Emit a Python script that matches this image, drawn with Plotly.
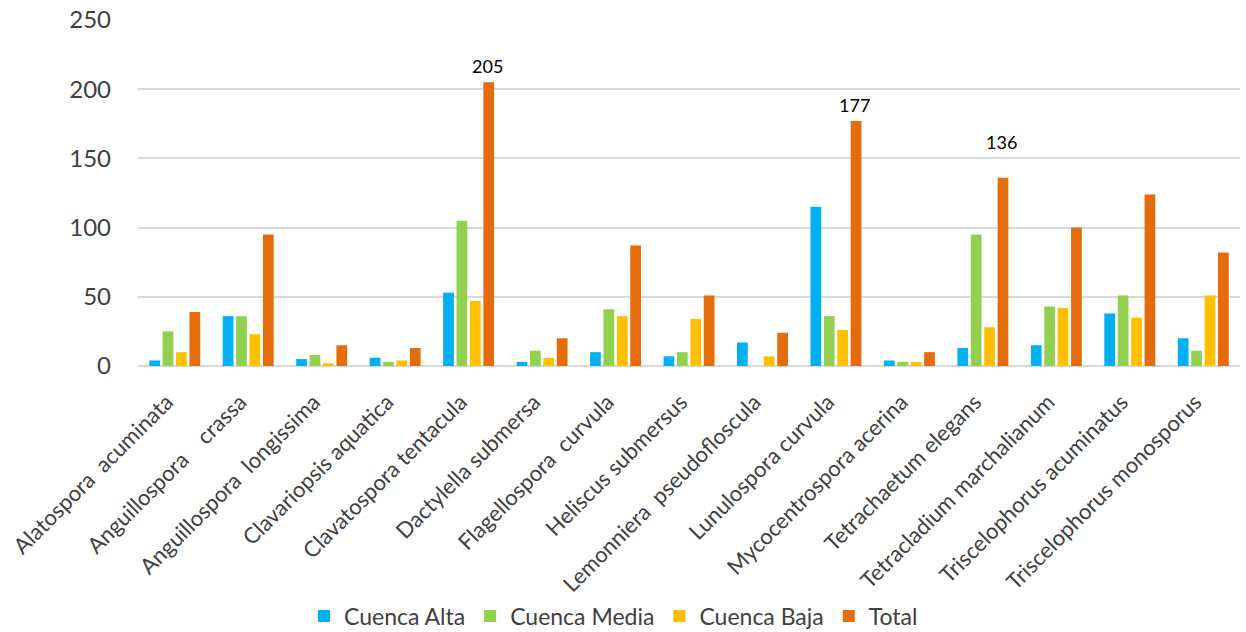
import plotly.graph_objects as go

categories = [
    "Alatospora\u00a0\u00a0acuminata",
    "Anguillospora\u00a0\u00a0\u00a0\u00a0crassa",
    "Anguillospora\u00a0\u00a0longissima",
    "Clavariopsis aquatica",
    "Clavatospora tentacula",
    "Dactylella submersa",
    "Flagellospora\u00a0\u00a0curvula",
    "Heliscus submersus",
    "Lemonniera\u00a0\u00a0pseudofloscula",
    "Lunulospora curvula",
    "Mycocentrospora acerina",
    "Tetrachaetum elegans",
    "Tetracladium marchalianum",
    "Triscelophorus acuminatus",
    "Triscelophorus monosporus",
]

cuenca_alta = [4, 36, 5, 6, 53, 3, 10, 7, 17, 115, 4, 13, 15, 38, 20]
cuenca_media = [25, 36, 8, 3, 105, 11, 41, 10, 0, 36, 3, 95, 43, 51, 11]
cuenca_baja = [10, 23, 2, 4, 47, 6, 36, 34, 7, 26, 3, 28, 42, 35, 51]
total = [39, 95, 15, 13, 205, 20, 87, 51, 24, 177, 10, 136, 100, 124, 82]

labeled = {4: 3, 9: 3, 11: 23}  # category index -> label lift (px)

series = [
    ("Cuenca Alta", cuenca_alta, "#00B0F0"),
    ("Cuenca Media", cuenca_media, "#92D050"),
    ("Cuenca Baja", cuenca_baja, "#FFC000"),
    ("Total", total, "#E46C0A"),
]

fig = go.Figure()
for name, vals, color in series:
    fig.add_trace(go.Bar(x=categories, y=vals, name=name, marker_color=color,
                         marker_line_width=0))

for idx, lift in labeled.items():
    fig.add_annotation(x=categories[idx], y=total[idx], text=str(total[idx]),
                       showarrow=False, yanchor="bottom", xshift=19, yshift=lift,
                       font=dict(family="Lato", size=18, color="#000000"))

fig.update_layout(
    width=1246, height=632,
    margin=dict(l=138, r=6, t=20, b=266, autoexpand=False),
    paper_bgcolor="white", plot_bgcolor="white",
    barmode="group", bargap=0.27, bargroupgap=0.2,
    font=dict(family="Lato", color="#404040"),
    legend=dict(orientation="h", xref="container", yref="container",
                x=304 / 1246, xanchor="left", y=1 - 616 / 632, yanchor="middle",
                font=dict(size=23, color="#404040"), itemwidth=30,
                traceorder="normal"),
    showlegend=True,
)
fig.update_yaxes(range=[0, 250], dtick=50, showgrid=True, gridcolor="#D9D9D9",
                 gridwidth=1.5, zeroline=True, zerolinecolor="#D9D9D9",
                 zerolinewidth=1.5, showline=False, tickfont=dict(size=24),
                 ticklabelstandoff=26, automargin=False)
fig.update_xaxes(tickangle=-45, tickfont=dict(size=22), showline=False,
                 ticklabelstandoff=18, ticklabelshift=-8, automargin=False)

fig.write_html("out.html")
